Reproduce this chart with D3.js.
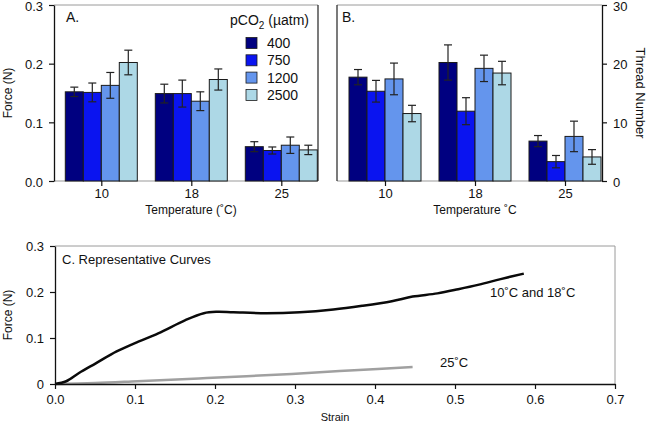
<!DOCTYPE html>
<html>
<head>
<meta charset="utf-8">
<script src="https://cdn.jsdelivr.net/npm/d3@7"></script>
<style>
html,body{margin:0;padding:0;background:#fff;}
svg{display:block;font-family:"Liberation Sans",Arial,sans-serif;}
</style>
</head>
<body>
<svg id="chart" width="650" height="424"></svg>
<script>
// ---------- DATA ----------
const temps = ["10", "18", "25"];
const pco2Levels = ["400", "750", "1200", "2500"];
// Panel A: force (N), mean and error per temperature x pCO2
const forceMean = [
  [0.152, 0.151, 0.163, 0.202],
  [0.149, 0.149, 0.136, 0.173],
  [0.0585, 0.052, 0.061, 0.053]
];
const forceErr = [
  [0.008, 0.016, 0.022, 0.021],
  [0.016, 0.023, 0.016, 0.018],
  [0.0085, 0.006, 0.014, 0.008]
];
// Panel B: thread number
const threadMean = [
  [17.7, 15.3, 17.4, 11.5],
  [20.2, 11.9, 19.2, 18.4],
  [6.8, 3.3, 7.6, 4.1]
];
const threadErr = [
  [1.3, 1.85, 2.7, 1.4],
  [3.0, 2.3, 2.25, 2.0],
  [0.95, 1.05, 2.6, 1.25]
];
const forceTicks = [0, 0.1, 0.2, 0.3];
const threadTicks = [0, 10, 20, 30];
// Panel C: representative curves (strain, force)
const curveColdStrain = [0, 0.014, 0.030, 0.051, 0.077, 0.100, 0.129, 0.163, 0.186, 0.202, 0.223, 0.264, 0.306, 0.348, 0.384, 0.421, 0.447, 0.478, 0.504, 0.530, 0.557, 0.586];
const curveColdForce  = [0, 0.006, 0.024, 0.045, 0.071, 0.089, 0.110, 0.139, 0.154, 0.157, 0.156, 0.154, 0.156, 0.162, 0.170, 0.180, 0.190, 0.197, 0.206, 0.216, 0.228, 0.240];
const curveWarmStrain = [0, 0.05, 0.103, 0.19, 0.296, 0.374, 0.447];
const curveWarmForce  = [0, 0.002, 0.006, 0.013, 0.022, 0.030, 0.037];
const strainTicks = [0, 0.1, 0.2, 0.3, 0.4, 0.5, 0.6, 0.7];
const curveForceTicks = [0, 0.1, 0.2, 0.3];

// ---------- STYLE ----------
const colors = ["#000080", "#0a14f0", "#6495ed", "#add8e6"];
const svg = d3.select("#chart");
const frameGray = "#9a9a9a";

const color = d3.scaleOrdinal().domain(pco2Levels).range(colors);

function barPanel(opts) {
  const g = svg.append("g");
  const {left, right, top, bottom, means, errs, yMax, ticks, yFmt, firstCenter, lastCenter, axisSide} = opts;
  const y = d3.scaleLinear().domain([0, yMax]).range([bottom, top]);
  const x0 = d3.scalePoint().domain(temps).range([firstCenter, lastCenter]);
  const x1 = d3.scaleBand().domain(pco2Levels).range([-36, 36]);

  g.append("line").attr("x1", left).attr("x2", right).attr("y1", top).attr("y2", top)
    .attr("stroke", frameGray).attr("stroke-width", 1);
  g.append("line").attr("x1", left).attr("x2", right).attr("y1", bottom).attr("y2", bottom)
    .attr("stroke", frameGray).attr("stroke-width", 1.2);

  temps.forEach((t, i) => {
    pco2Levels.forEach((p, j) => {
      const v = means[i][j], e = errs[i][j];
      const bx = x0(t) + x1(p);
      g.append("rect")
        .attr("x", bx).attr("width", x1.bandwidth())
        .attr("y", y(v)).attr("height", y(0) - y(v))
        .attr("fill", color(p)).attr("stroke", "#1a1a1a").attr("stroke-width", 1);
      const cx = bx + x1.bandwidth() / 2;
      const eg = g.append("g").attr("stroke", "#222").attr("stroke-width", 1.2);
      eg.append("line").attr("x1", cx).attr("x2", cx).attr("y1", y(v + e)).attr("y2", y(v - e));
      eg.append("line").attr("x1", cx - 4).attr("x2", cx + 4).attr("y1", y(v + e)).attr("y2", y(v + e));
      eg.append("line").attr("x1", cx - 4).attr("x2", cx + 4).attr("y1", y(v - e)).attr("y2", y(v - e));
    });
  });

  const xa = g.append("g").attr("transform", `translate(0,${bottom})`)
    .call(d3.axisBottom(x0).tickSize(5).tickPadding(3));
  xa.select(".domain").remove();
  xa.selectAll("line").attr("stroke", "#111").attr("stroke-width", 1.2);
  xa.selectAll("text").attr("font-size", 13).attr("fill", "#111").attr("font-family", "Liberation Sans, Arial, sans-serif");

  const axisX = axisSide === "left" ? left : right;
  const axisGen = axisSide === "left" ? d3.axisLeft(y) : d3.axisRight(y);
  const ya = g.append("g").attr("transform", `translate(${axisX},0)`)
    .call(axisGen.tickValues(ticks).tickFormat(yFmt).tickSize(5).tickSizeOuter(0).tickPadding(6));
  ya.select(".domain").attr("stroke", "#111").attr("stroke-width", 1.3);
  ya.selectAll("line").attr("stroke", "#111").attr("stroke-width", 1.2);
  ya.selectAll("text").attr("font-size", 13).attr("fill", "#111").attr("dy", "0.4em")
    .attr("font-family", "Liberation Sans, Arial, sans-serif");
  return {g, x0, y};
}

// Panel A
const A = barPanel({left: 54, right: 318, top: 5, bottom: 181, means: forceMean, errs: forceErr,
  yMax: 0.3, ticks: forceTicks, yFmt: d3.format(".1f"), firstCenter: 101.3, lastCenter: 281.3, axisSide: "left"});
svg.append("line").attr("x1", 318).attr("x2", 318).attr("y1", 5).attr("y2", 181).attr("stroke", "#222").attr("stroke-width", 1.2);

// Panel B
const B = barPanel({left: 337, right: 602, top: 5, bottom: 181, means: threadMean, errs: threadErr,
  yMax: 30, ticks: threadTicks, yFmt: d3.format("d"), firstCenter: 385, lastCenter: 565, axisSide: "right"});
svg.append("line").attr("x1", 337).attr("x2", 337).attr("y1", 5).attr("y2", 181).attr("stroke", "#222").attr("stroke-width", 1.2);

// labels A
svg.append("text").attr("x", 66).attr("y", 22).attr("font-size", 14).attr("fill", "#111").text("A.");
svg.append("text").attr("font-size", 12).attr("fill", "#111")
  .attr("text-anchor", "middle").attr("transform", "translate(12,93) rotate(-90)").text("Force (N)");
svg.append("text").attr("x", 191).attr("y", 214).attr("font-size", 12).attr("fill", "#111")
  .attr("text-anchor", "middle").text("Temperature (˚C)");
// legend
const leg = svg.append("g");
const legTitle = leg.append("text").attr("x", 230).attr("y", 25).attr("font-size", 14).attr("fill", "#111");
legTitle.append("tspan").text("pCO");
legTitle.append("tspan").attr("font-size", 10).attr("dy", 4).text("2");
legTitle.append("tspan").attr("dy", -4).text(" (µatm)");
pco2Levels.forEach((p, i) => {
  const cy = 43 + i * 17.3;
  leg.append("rect").attr("x", 246).attr("y", cy - 5.5).attr("width", 11).attr("height", 11)
    .attr("fill", color(p)).attr("stroke", "#1a1a1a").attr("stroke-width", 0.8);
  leg.append("text").attr("x", 267).attr("y", cy + 5).attr("font-size", 14).attr("fill", "#111").text(p);
});

// labels B
svg.append("text").attr("x", 342).attr("y", 22).attr("font-size", 14).attr("fill", "#111").text("B.");
svg.append("text").attr("x", 475).attr("y", 214).attr("font-size", 12).attr("fill", "#111")
  .attr("text-anchor", "middle").text("Temperature ˚C");
svg.append("text").attr("font-size", 13).attr("fill", "#111")
  .attr("text-anchor", "middle").attr("transform", "translate(636,93) rotate(90)").text("Thread Number");

// ---------- Panel C ----------
const cL = 55, cR = 615, cT = 246, cB = 384;
const xc = d3.scaleLinear().domain([0, 0.7]).range([cL, cR]);
const yc = d3.scaleLinear().domain([0, 0.3]).range([cB, cT]);
const gc = svg.append("g");
gc.append("line").attr("x1", cL).attr("x2", cR).attr("y1", cT).attr("y2", cT).attr("stroke", frameGray).attr("stroke-width", 1);
gc.append("line").attr("x1", cR).attr("x2", cR).attr("y1", cT).attr("y2", cB).attr("stroke", frameGray).attr("stroke-width", 1);

const line = d3.line().x(d => xc(d[0])).y(d => yc(d[1])).curve(d3.curveCatmullRom.alpha(0.5));
const cold = curveColdStrain.map((s, i) => [s, curveColdForce[i]]);
const warm = curveWarmStrain.map((s, i) => [s, curveWarmForce[i]]);
gc.append("path").datum(warm).attr("d", line).attr("fill", "none").attr("stroke", "#a0a0a0").attr("stroke-width", 2.5);
gc.append("path").datum(cold).attr("d", line).attr("fill", "none").attr("stroke", "#0a0a0a").attr("stroke-width", 2.5);

const xca = gc.append("g").attr("transform", `translate(0,${cB})`)
  .call(d3.axisBottom(xc).tickValues(strainTicks).tickFormat(d3.format(".1f")).tickSize(5).tickSizeOuter(0).tickPadding(6));
xca.select(".domain").attr("stroke", "#111").attr("stroke-width", 1.3);
xca.selectAll("line").attr("stroke", "#111").attr("stroke-width", 1.2);
xca.selectAll("text").attr("font-size", 13).attr("fill", "#111").attr("font-family", "Liberation Sans, Arial, sans-serif");

const yca = gc.append("g").attr("transform", `translate(${cL},0)`)
  .call(d3.axisLeft(yc).tickValues(curveForceTicks).tickFormat(d => d === 0 ? "0" : d3.format(".1f")(d)).tickSize(5).tickSizeOuter(0).tickPadding(6));
yca.select(".domain").attr("stroke", "#111").attr("stroke-width", 1.3);
yca.selectAll("line").attr("stroke", "#111").attr("stroke-width", 1.2);
yca.selectAll("text").attr("font-size", 13).attr("fill", "#111").attr("font-family", "Liberation Sans, Arial, sans-serif");

gc.append("text").attr("x", 62).attr("y", 264).attr("font-size", 13).attr("fill", "#111").text("C. Representative Curves");
gc.append("text").attr("x", 490).attr("y", 297).attr("font-size", 13).attr("fill", "#111").text("10˚C and 18˚C");
gc.append("text").attr("x", 440).attr("y", 367).attr("font-size", 13).attr("fill", "#111").text("25˚C");
gc.append("text").attr("x", 335).attr("y", 421).attr("font-size", 11).attr("fill", "#111").attr("text-anchor", "middle").text("Strain");
gc.append("text").attr("font-size", 12).attr("fill", "#111").attr("text-anchor", "middle")
  .attr("transform", "translate(12,315) rotate(-90)").text("Force (N)");
</script>
</body>
</html>
